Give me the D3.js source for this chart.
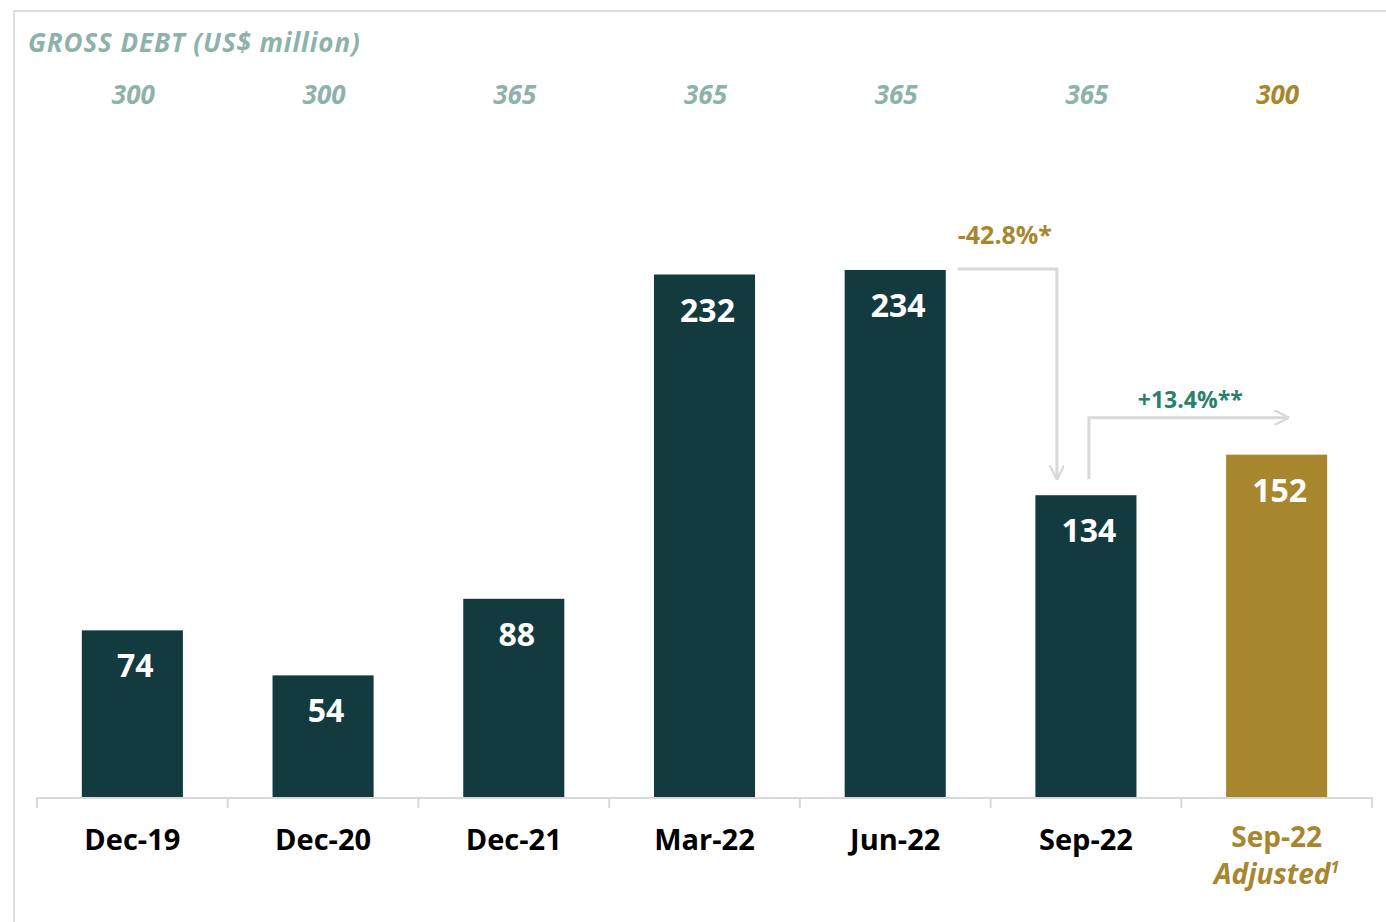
<!DOCTYPE html>
<html>
<head>
<meta charset="utf-8">
<script src="https://cdn.jsdelivr.net/npm/d3@7"></script>
<style>
  body { margin: 0; background: #fff; }
  svg { display: block; font-family: "Open Sans", "Noto Sans", sans-serif; }
</style>
</head>
<body>
<div id="chart"></div>
<script>
var categories = ["Dec-19", "Dec-20", "Dec-21", "Mar-22", "Jun-22", "Sep-22", "Sep-22 Adjusted"];
var grossDebt = [74, 54, 88, 232, 234, 134, 152];
var facility = [300, 300, 365, 365, 365, 365, 300];
var changeDown = "-42.8%*";
var changeUp = "+13.4%**";

var width = 1386, height = 922;
var baseline = 797;
var darkColor = "#133a3f";
var goldColor = "#a8862e";
var greyText = "#8db2aa";
var lineGrey = "#d9d9d9";

var svg = d3.select("#chart").append("svg")
    .attr("width", width)
    .attr("height", height);

var defs = svg.append("defs");
defs.append("marker")
    .attr("id", "arrow")
    .attr("viewBox", "0 0 10 10")
    .attr("refX", 9).attr("refY", 5)
    .attr("markerWidth", 5).attr("markerHeight", 5)
    .attr("markerUnits", "strokeWidth")
    .attr("orient", "auto")
    .append("path")
    .attr("d", "M0,0 L10,5 L0,10")
    .attr("fill", "none")
    .attr("stroke", lineGrey)
    .attr("stroke-width", 1.6);

// frame
svg.append("path")
    .attr("d", "M14," + height + " L14,11 L" + width + ",11")
    .attr("fill", "none")
    .attr("stroke", "#dedede")
    .attr("stroke-width", 2);

var x = d3.scaleBand()
    .domain(categories)
    .range([37, 1372])
    .paddingInner(0.47)
    .paddingOuter(0.235);

var y = d3.scaleLinear()
    .domain([0, 234])
    .range([baseline, 270]);

// title
svg.append("text")
    .attr("x", 28).attr("y", 52)
    .attr("font-size", 26)
    .attr("font-weight", "bold")
    .attr("font-style", "italic")
    .attr("letter-spacing", 0.9)
    .attr("fill", greyText)
    .text("GROSS DEBT (US$ million)");

// facility row
svg.selectAll(".fac")
    .data(categories)
    .enter().append("text")
    .attr("class", "fac")
    .attr("x", function(d) { return x(d) + x.bandwidth() / 2 + 1; })
    .attr("y", 104)
    .attr("text-anchor", "middle")
    .attr("font-size", 26)
    .attr("font-weight", "bold")
    .attr("font-style", "italic")
    .attr("fill", function(d, i) { return i == categories.length - 1 ? goldColor : greyText; })
    .text(function(d, i) { return facility[i]; });

// bars
svg.selectAll(".bar")
    .data(categories)
    .enter().append("rect")
    .attr("class", "bar")
    .attr("x", function(d) { return x(d); })
    .attr("width", x.bandwidth())
    .attr("y", function(d, i) { return y(grossDebt[i]); })
    .attr("height", function(d, i) { return baseline - y(grossDebt[i]); })
    .attr("fill", function(d, i) { return i == categories.length - 1 ? goldColor : darkColor; });

svg.selectAll(".val")
    .data(categories)
    .enter().append("text")
    .attr("class", "val")
    .attr("x", function(d) { return x(d) + x.bandwidth() / 2 + 3; })
    .attr("y", function(d, i) { return y(grossDebt[i]) + 47; })
    .attr("text-anchor", "middle")
    .attr("font-size", 32)
    .attr("font-weight", "bold")
    .attr("fill", "#fff")
    .text(function(d, i) { return grossDebt[i]; });

// axis
svg.append("line")
    .attr("x1", 37).attr("x2", 1372)
    .attr("y1", baseline + 1).attr("y2", baseline + 1)
    .attr("stroke", lineGrey).attr("stroke-width", 2);

var bounds = categories.map(function(d) { return x(d) - x.step() * x.paddingInner() / 2; });
bounds.push(1372);
bounds[0] = 37;
svg.selectAll(".tick")
    .data(bounds)
    .enter().append("line")
    .attr("class", "tick")
    .attr("x1", function(d) { return d; }).attr("x2", function(d) { return d; })
    .attr("y1", baseline).attr("y2", baseline + 11)
    .attr("stroke", lineGrey).attr("stroke-width", 2);

// category labels
categories.forEach(function(c, i) {
    var cx = x(c) + x.bandwidth() / 2;
    if (i < categories.length - 1) {
        svg.append("text")
            .attr("x", cx).attr("y", 850)
            .attr("text-anchor", "middle")
            .attr("font-size", 29)
            .attr("font-weight", "bold")
            .attr("fill", "#000")
            .text(c);
    } else {
        svg.append("text")
            .attr("x", cx).attr("y", 847)
            .attr("text-anchor", "middle")
            .attr("font-size", 28)
            .attr("font-weight", "bold")
            .attr("fill", goldColor)
            .text("Sep-22");
        var adj = svg.append("text")
            .attr("x", cx).attr("y", 884)
            .attr("text-anchor", "middle")
            .attr("font-size", 28)
            .attr("font-weight", "bold")
            .attr("font-style", "italic")
            .attr("fill", goldColor);
        adj.append("tspan").text("Adjusted");
        adj.append("tspan").attr("font-size", 16).attr("dy", -11).text("1");
    }
});

// change annotations
var jun = categories[4], sep = categories[5], adjC = categories[6];
var xJunR = x(jun) + x.bandwidth() + 12;
var xDown = x(sep) + x.bandwidth() / 2 - 29;
svg.append("path")
    .attr("d", "M" + xJunR + "," + (y(grossDebt[4]) - 1) +
               " H" + xDown + " V" + (y(grossDebt[5]) - 17))
    .attr("fill", "none")
    .attr("stroke", lineGrey)
    .attr("stroke-width", 3)
    .attr("marker-end", "url(#arrow)");
svg.append("text")
    .attr("x", xJunR).attr("y", 244)
    .attr("text-anchor", "start")
    .attr("font-size", 25)
    .attr("font-weight", "bold")
    .attr("fill", goldColor)
    .text(changeDown);

var xUp = x(sep) + x.bandwidth() / 2 + 3;
var yUp = y(grossDebt[6]) - 37;
var xEnd = x(adjC) + x.bandwidth() / 2 + 11;
svg.append("path")
    .attr("d", "M" + xUp + "," + (y(grossDebt[5]) - 16) +
               " V" + yUp + " H" + xEnd)
    .attr("fill", "none")
    .attr("stroke", lineGrey)
    .attr("stroke-width", 3)
    .attr("marker-end", "url(#arrow)");
svg.append("text")
    .attr("x", (xUp + xEnd) / 2 + 2).attr("y", 408)
    .attr("text-anchor", "middle")
    .attr("font-size", 23)
    .attr("font-weight", "bold")
    .attr("fill", "#2a7f6e")
    .text(changeUp);
</script>
</body>
</html>
